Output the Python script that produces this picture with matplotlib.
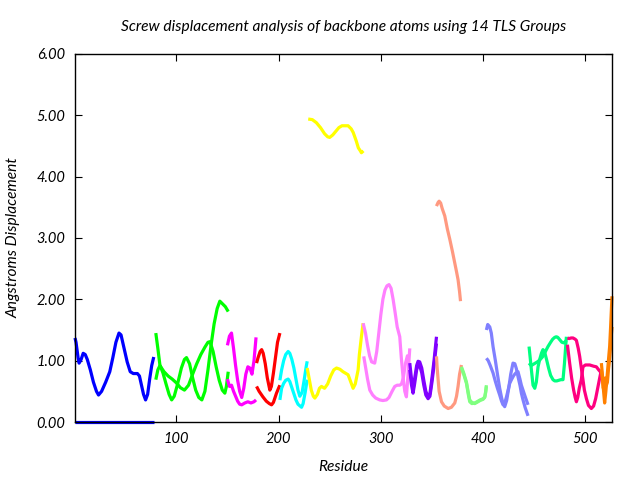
import matplotlib
matplotlib.use("Agg")
import matplotlib.pyplot as plt

# ---- data: (residue, screw displacement) per TLS group, two curves each ----
res_01a = [1, 2, 4, 5, 7, 9, 11, 13, 16, 19, 22, 24, 27, 31, 35, 38, 41, 44, 46, 49, 52, 55, 58, 62, 64, 66, 68, 70, 72, 74, 76, 78]
val_01a = [1.37, 1.3, 1.05, 0.96, 1.02, 1.12, 1.1, 1.02, 0.85, 0.65, 0.5, 0.44, 0.5, 0.65, 0.82, 1.05, 1.3, 1.45, 1.42, 1.2, 0.98, 0.82, 0.79, 0.79, 0.75, 0.6, 0.45, 0.36, 0.45, 0.7, 0.92, 1.06]
res_01b = [1, 78]
val_01b = [0.005, 0.005]

res_02a = [80, 82, 84, 87, 90, 93, 95.5, 98, 101, 105, 108, 110, 113, 116, 119, 122, 125, 128, 131, 134, 137, 140, 142.6, 145, 148, 150.8]
val_02a = [1.45, 1.2, 0.93, 0.8, 0.62, 0.45, 0.36, 0.42, 0.6, 0.88, 1.02, 1.05, 0.95, 0.72, 0.52, 0.4, 0.36, 0.5, 0.85, 1.25, 1.6, 1.85, 1.97, 1.93, 1.88, 1.8]
res_02b = [80, 82, 84, 88, 92, 96, 100, 104, 108, 112, 116, 120, 124, 128, 131, 133, 136, 139, 142, 145, 147.5, 149, 150.8]
val_02b = [0.69, 0.85, 0.92, 0.82, 0.75, 0.7, 0.64, 0.56, 0.52, 0.6, 0.78, 0.95, 1.1, 1.22, 1.3, 1.31, 1.15, 0.9, 0.68, 0.52, 0.47, 0.58, 0.82]

res_03a = [150, 152, 154, 156, 158, 160, 162, 164, 166, 168, 170, 172, 174, 176, 178]
val_03a = [1.25, 1.4, 1.45, 1.2, 0.92, 0.68, 0.5, 0.4, 0.55, 0.78, 0.9, 0.88, 0.78, 1.0, 1.38]
res_03b = [150, 152, 154, 156, 158, 160, 162, 164, 167, 170, 173, 176, 178]
val_03b = [0.7, 0.58, 0.6, 0.5, 0.42, 0.34, 0.29, 0.28, 0.31, 0.33, 0.31, 0.33, 0.36]

res_04a = [178.5, 180, 182, 183.5, 185, 187, 189, 191.5, 193, 195, 197, 199, 201.3]
val_04a = [0.96, 1.05, 1.15, 1.18, 1.12, 0.95, 0.72, 0.52, 0.58, 0.8, 1.05, 1.3, 1.45]
res_04b = [178.5, 181, 184.7, 188, 191, 193.2, 195, 198, 200, 201.3]
val_04b = [0.58, 0.5, 0.41, 0.34, 0.3, 0.28, 0.32, 0.47, 0.55, 0.6]

res_05a = [201.3, 203, 205, 207, 209.4, 211, 213, 215, 217, 219, 220.8, 223, 225, 227, 228]
val_05a = [0.68, 0.85, 1.0, 1.1, 1.15, 1.12, 1.02, 0.88, 0.7, 0.52, 0.42, 0.48, 0.68, 0.9, 0.99]
res_05b = [201.3, 203, 205, 207, 209.4, 211, 213, 215, 217, 219, 222.5, 224, 226, 228]
val_05b = [0.36, 0.55, 0.63, 0.68, 0.7, 0.66, 0.56, 0.46, 0.36, 0.29, 0.24, 0.3, 0.48, 0.69]

res_06a = [229, 233, 237, 241, 245, 248, 250, 253, 256, 259, 262, 265, 268, 271, 273, 276, 278, 280, 281, 283]
val_06a = [4.94, 4.93, 4.88, 4.8, 4.7, 4.65, 4.64, 4.68, 4.74, 4.8, 4.83, 4.83, 4.83, 4.78, 4.72, 4.58, 4.47, 4.42, 4.39, 4.42]
res_06b = [228, 230, 232, 234, 235.5, 238, 240, 242, 245, 248, 251, 254, 256.7, 260, 263, 266, 268, 270, 272.9, 275, 277.8, 279, 281, 282.7]
val_06b = [0.88, 0.7, 0.52, 0.42, 0.39, 0.45, 0.55, 0.58, 0.55, 0.62, 0.75, 0.85, 0.88, 0.86, 0.82, 0.79, 0.77, 0.68, 0.55, 0.62, 0.85, 1.1, 1.39, 1.61]

res_07a = [282.7, 285, 287, 289, 291, 294, 296, 298, 300, 302, 304, 306, 308, 310, 312, 314, 316, 318.5, 320, 321.7, 323.4, 325, 326.5, 328.3]
val_07a = [1.61, 1.45, 1.25, 1.08, 0.98, 0.96, 1.15, 1.45, 1.75, 2.0, 2.15, 2.22, 2.24, 2.18, 2.0, 1.78, 1.55, 1.39, 1.05, 0.74, 0.5, 0.41, 0.75, 1.2]
res_07b = [283.3, 285, 287, 289.2, 292, 295, 298.9, 302, 305.5, 308, 311, 313.6, 316, 318.5, 320.2, 322, 324, 326, 328]
val_07b = [1.07, 0.9, 0.7, 0.52, 0.44, 0.39, 0.36, 0.35, 0.36, 0.4, 0.5, 0.58, 0.6, 0.6, 0.62, 0.72, 0.95, 1.08, 0.85]

res_08a = [328.3, 330, 331.5, 333, 335, 336.4, 338, 340, 342, 344, 346.2, 348, 350, 352, 354.4]
val_08a = [0.96, 0.7, 0.52, 0.7, 0.92, 0.99, 0.98, 0.88, 0.68, 0.5, 0.41, 0.46, 0.72, 1.0, 1.39]
res_08b = [328.3, 330, 331.5, 333, 335, 336.4, 338, 340, 342, 344, 346.2, 348, 350, 352, 354.4]
val_08b = [0.85, 0.6, 0.47, 0.62, 0.85, 0.93, 0.92, 0.8, 0.6, 0.44, 0.38, 0.42, 0.65, 0.92, 1.28]

res_09a = [354.4, 356, 357, 358.5, 360, 362.5, 365, 367.4, 370, 372.3, 374, 375.5, 377, 377.9]
val_09a = [3.52, 3.58, 3.6, 3.57, 3.48, 3.36, 3.15, 2.98, 2.78, 2.59, 2.45, 2.32, 2.12, 1.97]
res_09b = [354.4, 355, 356, 357, 359.3, 362, 365.8, 369, 372.3, 374, 375.5, 377, 378.8]
val_09b = [1.07, 0.9, 0.69, 0.5, 0.33, 0.26, 0.22, 0.24, 0.31, 0.42, 0.58, 0.78, 0.93]

res_10a = [378.8, 381, 383.7, 385.5, 386.9, 389, 391.8, 394, 397, 400, 401.6, 402.5, 403.2]
val_10a = [0.88, 0.78, 0.63, 0.45, 0.33, 0.3, 0.31, 0.33, 0.36, 0.38, 0.41, 0.5, 0.6]
res_10b = [378.8, 381, 383.7, 385.5, 386.9, 389, 391.8, 394, 397, 400, 401.6, 402.5, 403.2]
val_10b = [0.9, 0.8, 0.65, 0.48, 0.36, 0.32, 0.3, 0.32, 0.35, 0.37, 0.4, 0.48, 0.58]

res_11a = [403.2, 404.5, 406.5, 408, 409.7, 412, 414, 416.2, 418, 419.5, 421.1, 423, 425, 427, 429.2, 431, 432.5, 434.1, 436, 437.4, 439, 441, 443.9]
val_11a = [1.5, 1.59, 1.55, 1.45, 1.23, 1.0, 0.78, 0.55, 0.4, 0.3, 0.25, 0.35, 0.55, 0.78, 0.96, 0.95, 0.87, 0.74, 0.6, 0.47, 0.36, 0.24, 0.1]
res_11b = [403.2, 405, 407, 409.7, 412, 414, 416.2, 418, 419.5, 421, 423, 426, 428, 430, 432, 434.1, 436, 437.4, 439, 441, 443.9]
val_11b = [1.04, 1.0, 0.92, 0.8, 0.66, 0.55, 0.44, 0.34, 0.28, 0.3, 0.42, 0.63, 0.7, 0.76, 0.8, 0.82, 0.7, 0.6, 0.52, 0.42, 0.28]

res_12a = [444.9, 446, 447.2, 448.8, 450.5, 452, 453.7, 455.3, 457, 458.5, 460, 462, 464, 466, 468.3, 470, 472, 474, 476, 478.1, 479.5, 481.4]
val_12a = [1.23, 1.05, 0.85, 0.6, 0.55, 0.65, 0.9, 1.02, 1.12, 1.18, 1.15, 1.02, 0.88, 0.76, 0.69, 0.67, 0.67, 0.68, 0.69, 0.69, 0.95, 1.39]
res_12b = [444.9, 447, 450, 453, 455.3, 458, 460, 463.4, 466, 468, 470, 471.6, 473, 475, 477, 479, 481.4]
val_12b = [0.96, 0.92, 0.95, 0.98, 1.01, 1.06, 1.12, 1.23, 1.3, 1.35, 1.38, 1.39, 1.38, 1.34, 1.3, 1.29, 1.33]

res_13a = [482.4, 484, 486, 487.9, 490, 491.2, 493, 494.4, 496, 497.6, 499, 501, 503, 505.8, 508, 510, 512, 514, 515.6]
val_13a = [1.37, 1.36, 1.37, 1.37, 1.35, 1.33, 1.2, 1.07, 0.88, 0.69, 0.52, 0.38, 0.27, 0.22, 0.26, 0.38, 0.55, 0.72, 0.85]
res_13b = [482.4, 484.6, 486.5, 488.5, 490, 491.2, 492.5, 494, 496, 497.6, 500, 504.2, 508, 510.7, 513, 515.6]
val_13b = [1.26, 0.96, 0.72, 0.52, 0.4, 0.33, 0.4, 0.55, 0.69, 0.9, 0.93, 0.93, 0.91, 0.9, 0.85, 0.8]

res_14a = [515.6, 516.5, 517.5, 518.8, 520, 521, 522, 523, 523.7, 524.5, 525.4, 526]
val_14a = [0.96, 0.8, 0.55, 0.31, 0.5, 0.7, 0.9, 1.1, 1.23, 1.5, 1.83, 2.05]
res_14b = [515.6, 516.5, 517.5, 518.5, 519.5, 520.5, 521.5, 522.5, 523.5, 524.5, 525.5, 526]
val_14b = [0.85, 0.7, 0.55, 0.6, 0.72, 0.6, 0.65, 0.85, 1.0, 1.2, 1.45, 1.55]

group_colors = ["#0000ff", "#00ff00", "#ff00ff", "#ff0000", "#00ffff", "#ffff00", "#ff80ff",
                "#8000ff", "#ff9980", "#80ff80", "#8080ff", "#00ff80", "#ff0080", "#ff8000"]

x_ticks = [100, 200, 300, 400, 500]
y_ticks = [0, 1, 2, 3, 4, 5, 6]

title_text = "Screw displacement analysis of backbone atoms using 14 TLS Groups"
x_label = "Residue"
y_label = "Angstroms Displacement"

groups = [
    (res_01a, val_01a, res_01b, val_01b), (res_02a, val_02a, res_02b, val_02b),
    (res_03a, val_03a, res_03b, val_03b), (res_04a, val_04a, res_04b, val_04b),
    (res_05a, val_05a, res_05b, val_05b), (res_06a, val_06a, res_06b, val_06b),
    (res_07a, val_07a, res_07b, val_07b), (res_08a, val_08a, res_08b, val_08b),
    (res_09a, val_09a, res_09b, val_09b), (res_10a, val_10a, res_10b, val_10b),
    (res_11a, val_11a, res_11b, val_11b), (res_12a, val_12a, res_12b, val_12b),
    (res_13a, val_13a, res_13b, val_13b), (res_14a, val_14a, res_14b, val_14b),
]

FONT = "Lato"

fig = plt.figure(figsize=(6.4, 4.8), dpi=100)
ax = fig.add_axes([75 / 640, 1 - 422 / 480, (612 - 75) / 640, (422 - 54) / 480])

for (ra, va, rb, vb), col in zip(groups, group_colors):
    ax.plot(ra, va, color=col, lw=2.3, solid_joinstyle="round", solid_capstyle="butt", clip_on=False)
    ax.plot(rb, vb, color=col, lw=2.3, solid_joinstyle="round", solid_capstyle="butt", clip_on=False)

ax.set_xlim(1, 526)
ax.set_ylim(0, 6)
ax.set_xticks(x_ticks)
ax.set_yticks(y_ticks)
ax.set_xticklabels([str(t) for t in x_ticks], fontfamily=FONT, fontstyle="italic", fontsize=10.5)
ax.set_yticklabels(["%.2f" % t for t in y_ticks], fontfamily=FONT, fontstyle="italic", fontsize=10.5)
ax.tick_params(direction="in", length=5, width=0.8, top=True, right=True, pad=7)
for s in ax.spines.values():
    s.set_linewidth(1.0)
    s.set_color("black")

fig.text(343.5 / 640, 1 - 27 / 480, title_text, ha="center", va="center",
         fontfamily=FONT, fontstyle="italic", fontsize=11.2)
fig.text(343.5 / 640, 1 - 467 / 480, x_label, ha="center", va="center",
         fontfamily=FONT, fontstyle="italic", fontsize=11.2)
fig.text(14 / 640, 1 - 238 / 480, y_label, ha="center", va="center", rotation=90,
         fontfamily=FONT, fontstyle="italic", fontsize=11.2)

fig.savefig("out.png", dpi=100)
